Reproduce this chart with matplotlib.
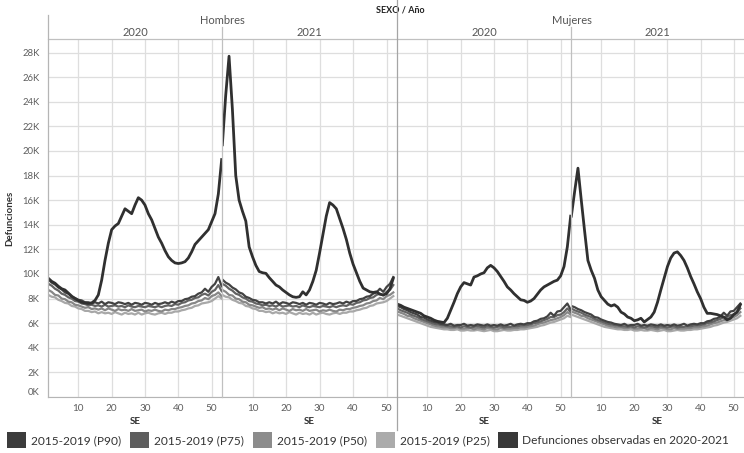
import matplotlib
matplotlib.use("Agg")
import matplotlib.pyplot as plt
from matplotlib.lines import Line2D
from matplotlib.patches import Patch

plt.rcParams["font.family"] = ["Lato", "DejaVu Sans"]

# ---------------- data ----------------
weeks_2020 = list(range(1, 54))
weeks_2021 = list(range(1, 53))

hombres_obs_2020 = [9650, 9400, 9250, 9000, 8800, 8700, 8450, 8200, 8000, 7850,
                    7700, 7650, 7600, 7650, 7850, 8300, 9500, 11100, 12500, 13600,
                    13900, 14100, 14700, 15300, 15100, 14900, 15600, 16200, 16000, 15600,
                    14900, 14400, 13700, 13000, 12500, 11900, 11400, 11100, 10900, 10850,
                    10900, 11000, 11300, 11800, 12400, 12700, 13000, 13300, 13600, 14250,
                    14900, 16500, 19300]
hombres_obs_2021 = [20500, 24500, 27700, 23400, 18000, 16000, 15100, 14300, 12200, 11400,
                    10700, 10200, 10100, 10050, 9700, 9400, 9100, 8950, 8700, 8500,
                    8300, 8150, 8100, 8150, 8550, 8300, 8700, 9400, 10300, 11700,
                    13200, 14700, 15800, 15600, 15300, 14500, 13700, 12800, 11700, 10800,
                    10100, 9400, 8850, 8700, 8550, 8500, 8550, 8350, 8300, 8400,
                    8800, 9650]
mujeres_obs_2020 = [7550, 7450, 7300, 7200, 7100, 7000, 6900, 6800, 6600, 6500,
                    6400, 6250, 6150, 6100, 6050, 6400, 7050, 7700, 8400, 8950,
                    9300, 9200, 9100, 9750, 9850, 10000, 10100, 10500, 10700, 10500,
                    10200, 9800, 9400, 8950, 8700, 8400, 8150, 7900, 7850, 7700,
                    7800, 8000, 8350, 8700, 8950, 9100, 9250, 9400, 9500, 9850,
                    10600, 12200, 14700]
mujeres_obs_2021 = [14700, 16700, 18600, 16000, 13500, 11100, 10300, 9650, 8700, 8150,
                    7850, 7550, 7400, 7500, 7300, 6900, 6750, 6500, 6400, 6200,
                    6270, 6400, 6100, 6300, 6500, 6900, 7700, 8700, 9650, 10600,
                    11300, 11700, 11800, 11500, 11100, 10500, 9800, 9200, 8550, 8000,
                    7300, 6800, 6800, 6750, 6700, 6600, 6500, 6270, 6400, 6700,
                    6900, 7500]

# 2015-2019 percentiles by epidemiological week (weeks 1-53)
hombres_p90 = [9550, 9300, 9150, 8900, 8750, 8500, 8400, 8150, 8050, 7900,
               7850, 7700, 7700, 7600, 7700, 7600, 7750, 7550, 7700, 7650,
               7550, 7700, 7650, 7550, 7650, 7500, 7650, 7600, 7500, 7650,
               7600, 7500, 7650, 7550, 7600, 7700, 7600, 7750, 7650, 7800,
               7800, 7950, 8000, 8150, 8200, 8400, 8500, 8800, 8550, 8950,
               9200, 9750, 9000]
hombres_p75 = [9200, 9050, 8800, 8650, 8400, 8300, 8100, 8000, 7800, 7750,
               7600, 7550, 7450, 7500, 7400, 7450, 7350, 7500, 7350, 7400,
               7450, 7350, 7400, 7300, 7450, 7350, 7300, 7400, 7350, 7300,
               7400, 7350, 7300, 7400, 7300, 7400, 7450, 7400, 7550, 7500,
               7650, 7700, 7850, 7900, 8050, 8100, 8300, 8400, 8250, 8550,
               8700, 9100, 8600]
hombres_p50 = [8700, 8550, 8300, 8250, 8000, 7950, 7750, 7700, 7500, 7450,
               7350, 7250, 7300, 7150, 7200, 7100, 7200, 7050, 7200, 7100,
               7000, 7150, 7050, 7100, 7000, 7150, 7000, 7050, 7100, 6950,
               7050, 7000, 7100, 7000, 6950, 7100, 7050, 7150, 7150, 7250,
               7300, 7400, 7450, 7600, 7650, 7800, 7850, 8050, 7950, 8200,
               8300, 8500, 8200]
hombres_p25 = [8300, 8150, 8100, 7900, 7800, 7650, 7600, 7400, 7350, 7200,
               7150, 7000, 7000, 6900, 6950, 6800, 6900, 6800, 6850, 6750,
               6900, 6800, 6700, 6850, 6750, 6800, 6700, 6850, 6700, 6800,
               6850, 6750, 6700, 6800, 6850, 6750, 6850, 6850, 6950, 6950,
               7050, 7100, 7200, 7250, 7400, 7450, 7600, 7650, 7700, 7800,
               8000, 8200, 8000]
mujeres_p90 = [7400, 7300, 7150, 7050, 6900, 6800, 6700, 6500, 6450, 6300,
               6200, 6100, 6050, 5950, 5900, 5850, 5950, 5800, 5850, 5850,
               5950, 5800, 5850, 5800, 5900, 5850, 5800, 5900, 5800, 5850,
               5800, 5900, 5800, 5850, 5950, 5800, 5900, 5950, 5900, 6000,
               6000, 6150, 6200, 6350, 6400, 6550, 6850, 6600, 6950, 7000,
               7300, 7600, 7100]
mujeres_p75 = [7200, 7050, 6950, 6850, 6700, 6600, 6500, 6350, 6250, 6150,
               6050, 5950, 5900, 5850, 5800, 5750, 5750, 5700, 5750, 5650,
               5750, 5700, 5650, 5700, 5750, 5700, 5650, 5750, 5700, 5650,
               5700, 5750, 5650, 5700, 5700, 5750, 5750, 5800, 5800, 5850,
               5900, 6000, 6050, 6150, 6250, 6350, 6500, 6500, 6650, 6700,
               6900, 7200, 6900]
mujeres_p50 = [6950, 6850, 6750, 6600, 6550, 6400, 6300, 6200, 6100, 6000,
               5900, 5800, 5750, 5700, 5650, 5650, 5600, 5600, 5650, 5550,
               5550, 5600, 5600, 5500, 5600, 5550, 5500, 5600, 5600, 5500,
               5500, 5600, 5550, 5550, 5550, 5600, 5600, 5650, 5650, 5700,
               5750, 5800, 5900, 6000, 6050, 6150, 6250, 6300, 6400, 6500,
               6650, 6900, 6700]
mujeres_p25 = [6700, 6600, 6500, 6400, 6300, 6200, 6100, 6000, 5900, 5800,
               5700, 5650, 5600, 5550, 5500, 5500, 5450, 5450, 5500, 5400,
               5400, 5450, 5400, 5400, 5450, 5400, 5350, 5400, 5450, 5350,
               5350, 5400, 5450, 5400, 5400, 5450, 5450, 5500, 5500, 5550,
               5600, 5650, 5700, 5800, 5850, 5950, 6050, 6100, 6200, 6300,
               6400, 6600, 6500]

sexes = ["Hombres", "Mujeres"]
years = ["2020", "2021"]
series_labels = ["2015-2019 (P90)", "2015-2019 (P75)", "2015-2019 (P50)",
                 "2015-2019 (P25)", "Defunciones observadas en 2020-2021"]
x_ticks = [10, 20, 30, 40, 50]
y_ticks = list(range(0, 28001, 2000))

# ---------------- style ----------------
c_obs = "#303030"
c_pct = ["#424242", "#636363", "#878787", "#a8a8a8"]
box_cols = ["#3c3c3c", "#5e5e5e", "#8c8c8c", "#ababab", "#383838"]
grid_c = "#dedede"
text_c = "#5e5e5e"

W, H = 744, 453
fig = plt.figure(figsize=(W / 100, H / 100), dpi=100)

def fx(px):
    return px / W

def fy(py):
    return 1 - py / H

pane_left = [48, 222, 397, 571]
pane_w = [174, 175, 174, 173]
top_px, bot_px = 39, 397

panes = [
    ("Hombres", "2020", weeks_2020, hombres_obs_2020,
     [hombres_p90, hombres_p75, hombres_p50, hombres_p25]),
    ("Hombres", "2021", weeks_2021, hombres_obs_2021,
     [hombres_p90, hombres_p75, hombres_p50, hombres_p25]),
    ("Mujeres", "2020", weeks_2020, mujeres_obs_2020,
     [mujeres_p90, mujeres_p75, mujeres_p50, mujeres_p25]),
    ("Mujeres", "2021", weeks_2021, mujeres_obs_2021,
     [mujeres_p90, mujeres_p75, mujeres_p50, mujeres_p25]),
]

for i, (sex, year, wk, obs, pcts) in enumerate(panes):
    ax = fig.add_axes([fx(pane_left[i]), fy(bot_px), fx(pane_w[i]),
                       (bot_px - top_px) / H])
    n = len(wk)
    for p, col in zip(reversed(pcts), reversed(c_pct)):
        ax.plot(wk, p[:n], color=col, lw=1.6, solid_joinstyle="round", zorder=3)
    ax.plot(wk, obs, color=c_obs, lw=2.0, solid_joinstyle="round", zorder=4)
    ax.set_xlim(0.9, 53.1)
    ax.set_ylim(0, 29100)
    ax.set_xticks(x_ticks)
    ax.set_yticks(y_ticks)
    ax.grid(True, color=grid_c, lw=0.9, zorder=0)
    ax.set_axisbelow(True)
    for s in ax.spines.values():
        s.set_visible(False)
    ax.spines["bottom"].set_visible(True)
    ax.spines["bottom"].set_color("#b5b5b5")
    ax.tick_params(axis="x", length=0, labelsize=7.2, colors=text_c, pad=5)
    ax.tick_params(axis="y", length=0, labelsize=6.8, colors=text_c, pad=6)
    ax.set_xlabel("SE", fontsize=7, fontweight="bold", color="#333333", labelpad=3)
    if i == 0:
        ax.set_yticklabels([f"{v // 1000}K" for v in y_ticks])
        ax.get_yticklabels()[0].set_va("bottom")
        ax.set_ylabel("Defunciones", fontsize=7, fontweight="bold",
                      color="#333333", labelpad=6)
    else:
        ax.set_yticklabels([])
    # year header
    fig.text(fx(pane_left[i] + pane_w[i] / 2), fy(33), year, ha="center",
             va="center", fontsize=8, color="#555555")

# sex headers and title
fig.text(fx(222), fy(21), "Hombres", ha="center", va="center", fontsize=8,
         color="#555555")
fig.text(fx(572), fy(21), "Mujeres", ha="center", va="center", fontsize=8,
         color="#555555")
fig.text(fx(400), fy(10), "SEXO / Año", ha="center", va="center", fontsize=6.5,
         fontweight="bold", color="#222222")

# divider lines
def vline(px, y0, y1, col, lw=0.9):
    fig.add_artist(Line2D([fx(px), fx(px)], [fy(y0), fy(y1)], color=col, lw=lw,
                          transform=fig.transFigure, zorder=5))

vline(48, 15, 397, "#b5b5b5")
vline(222, 27, 397, "#c0c0c0")
vline(397, 0, 430, "#a5a5a5")
vline(571, 27, 397, "#c0c0c0")
fig.add_artist(Line2D([fx(48), 1], [fy(39), fy(39)], color="#c0c0c0", lw=0.9,
                      transform=fig.transFigure))

# legend
handles = [Patch(facecolor=c, edgecolor="none") for c in box_cols]
fig.legend(handles, series_labels, loc="lower left", bbox_to_anchor=(0.0, -0.005),
           ncol=5, frameon=False, fontsize=8.6, handlelength=1.6, handleheight=1.7,
           handletextpad=0.4, columnspacing=0.75, borderaxespad=0.2,
           labelcolor="#333333")

fig.savefig("out.png", dpi=100)
